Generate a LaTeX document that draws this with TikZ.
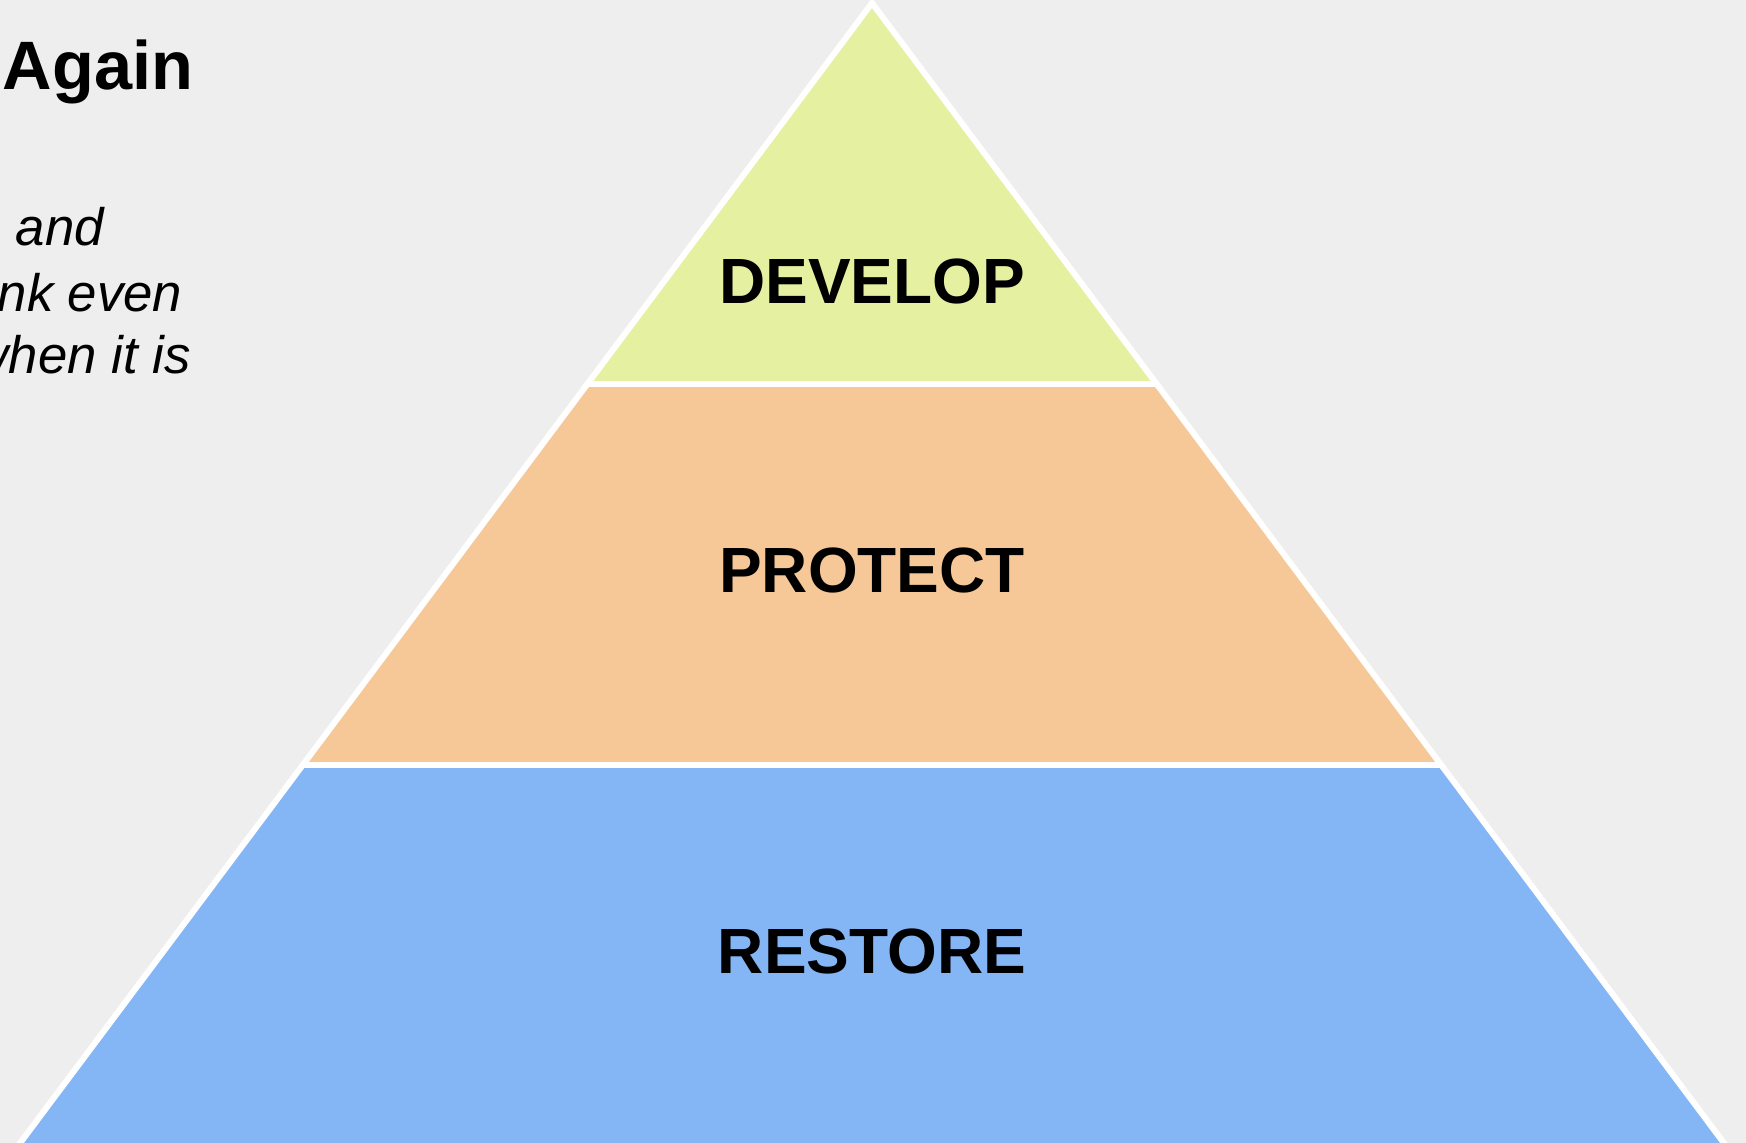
\documentclass[tikz,border=0pt]{standalone}
\usepackage{fontspec}
\setmainfont{Liberation Sans}
\definecolor{bgGray}{RGB}{238,238,238}
\definecolor{levelGreen}{RGB}{229,240,161}
\definecolor{levelOrange}{RGB}{246,199,151}
\definecolor{levelBlue}{RGB}{132,181,245}
\tikzset{
  level/.style={draw=white, line width=1.7pt, line join=miter},
  levelText/.style={font=\fontsize{18.2}{22}\selectfont\bfseries, anchor=base, inner sep=0pt},
  noteText/.style={font=\fontsize{15}{18}\selectfont\itshape, anchor=base west, inner sep=0pt}
}
\begin{document}
\begin{tikzpicture}[x=0.1mm,y=-0.1mm]
		\useasboundingbox (0,0) rectangle (1746,1143);
		\clip (0,0) rectangle (1746,1143);
		\fill [bgGray] (0,0) rectangle (1746,1143);
		%Pyramide
		\draw [level,fill=levelBlue] (302.8,765) -- (1441.2,765) -- (1756,1186) -- (-12,1186) -- cycle;
		\draw [level,fill=levelOrange] (587.4,384) -- (1156.6,384) -- (1441.2,765) -- (302.8,765) -- cycle;
		\draw [level,fill=levelGreen] (872,3) -- (1156.6,384) -- (587.4,384) -- cycle;
		%Stufen
		\node [levelText] (develop) at (872,304) {DEVELOP};
		\node [levelText] (protect) at (872,593) {PROTECT};
		\node [levelText] (restore) at (872,973) {RESTORE};
		%Text links
		\node [font=\fontsize{19.5}{23}\selectfont\bfseries, anchor=base west, inner sep=0pt] (title) at (2,90) {Again};
		\node [noteText] (line1) at (15,246) {and};
		\node [noteText] (line2) at (-3,312) {nk even};
		\node [noteText] (line3) at (-30,374) {when it is};
\end{tikzpicture}
\end{document}
